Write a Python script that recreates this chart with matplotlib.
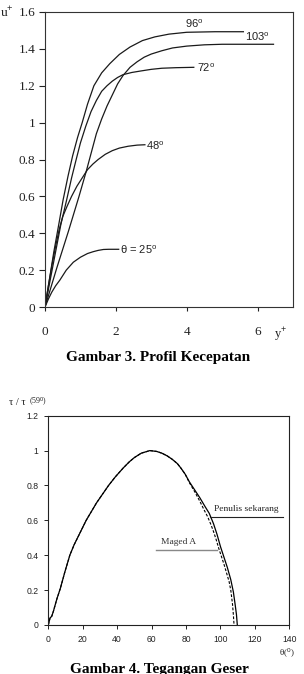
import matplotlib
matplotlib.use("Agg")
import matplotlib.pyplot as plt

plt.rcParams['mathtext.fontset'] = 'custom'
plt.rcParams['mathtext.rm'] = 'Liberation Sans'
plt.rcParams['mathtext.it'] = 'Liberation Sans:italic'
plt.rcParams['mathtext.bf'] = 'Liberation Sans:bold'

# ---------------- Data: Gambar 3 (velocity profiles) ----------------
x25 = [0, 0.1, 0.19, 0.3, 0.42, 0.6, 0.8, 1.0, 1.2, 1.36, 1.5, 1.65, 1.8, 2.08]
y25 = [0, 0.045, 0.08, 0.115, 0.146, 0.2, 0.243, 0.27, 0.29, 0.30, 0.307, 0.312, 0.313, 0.313]

x48 = [0, 0.1, 0.2, 0.3, 0.4, 0.5, 0.62, 0.75, 0.9, 1.05, 1.2, 1.35, 1.5, 1.7,
       1.9, 2.1, 2.35, 2.6, 2.82]
y48 = [0, 0.12, 0.23, 0.33, 0.42, 0.49, 0.545, 0.6, 0.655, 0.7, 0.745, 0.775,
       0.8, 0.828, 0.848, 0.862, 0.872, 0.878, 0.88]

x72 = [0, 0.15, 0.3, 0.45, 0.61, 0.75, 0.88, 1.0, 1.15, 1.3, 1.45, 1.6, 1.75,
       1.9, 2.05, 2.2, 2.45, 2.7, 3.0, 3.3, 3.7, 4.2]
y72 = [0, 0.15, 0.3, 0.45, 0.58, 0.7, 0.8, 0.89, 0.98, 1.06, 1.12, 1.17, 1.2,
       1.225, 1.245, 1.26, 1.272, 1.28, 1.289, 1.295, 1.298, 1.30]

x96 = [0, 0.1, 0.25, 0.4, 0.51, 0.65, 0.78, 0.92, 1.05, 1.2, 1.38, 1.6, 1.83,
       2.1, 2.4, 2.75, 3.1, 3.5, 4.0, 4.8, 5.6]
y96 = [0, 0.12, 0.3, 0.46, 0.58, 0.71, 0.82, 0.92, 1.0, 1.1, 1.2, 1.27, 1.32,
       1.37, 1.41, 1.445, 1.465, 1.48, 1.49, 1.493, 1.493]

x103 = [0, 0.33, 0.66, 0.96, 1.17, 1.31, 1.45, 1.6, 1.75, 1.9, 2.05, 2.2, 2.4,
        2.6, 2.8, 3.0, 3.3, 3.6, 4.0, 4.5, 5.0, 6.45]
y103 = [0, 0.21, 0.41, 0.6, 0.74, 0.84, 0.94, 1.02, 1.09, 1.15, 1.21, 1.255, 1.3,
        1.33, 1.355, 1.372, 1.39, 1.405, 1.415, 1.422, 1.425, 1.425]

top_xticks = [0, 2, 4, 6]
top_yticks = [0, 0.2, 0.4, 0.6, 0.8, 1.0, 1.2, 1.4, 1.6]
top_ylabels = ["0", "0.2", "0.4", "0.6", "0.8", "1", "1.2", "1.4", "1.6"]

# ---------------- Data: Gambar 4 (shear stress) ----------------
theta_now = [0, 1, 2, 3, 5, 7, 9.5, 12.5, 15, 17, 19.5, 22, 25, 28, 31.5, 35, 39,
             43.5, 47, 50, 54, 59, 63, 66, 69, 72, 75, 77, 79.5, 82, 85, 88, 91,
             93.5, 96, 98, 100, 102, 104, 106, 107.5, 108.5, 109.3, 109.8]
tau_now = [0, 0.04, 0.05, 0.08, 0.15, 0.21, 0.3, 0.4, 0.46, 0.5, 0.55, 0.6, 0.65,
           0.7, 0.75, 0.8, 0.85, 0.9, 0.935, 0.96, 0.985, 1.0, 0.995, 0.985, 0.97,
           0.95, 0.925, 0.9, 0.865, 0.82, 0.775, 0.73, 0.68, 0.64, 0.58, 0.52,
           0.45, 0.39, 0.33, 0.26, 0.19, 0.12, 0.06, 0]

theta_maged = [0, 1, 2, 3, 5, 7, 9.5, 12.5, 15, 17, 19.5, 22, 25, 28, 31.5, 35, 39,
               43.5, 47, 50, 54, 59, 63, 66, 69, 72, 75, 77, 79.5, 82, 85, 88,
               90.5, 92.6, 94.5, 96, 97.5, 99, 100.5, 102, 103.5, 105, 106, 107,
               107.5, 107.9]
tau_maged = [0, 0.04, 0.05, 0.08, 0.15, 0.21, 0.3, 0.4, 0.46, 0.5, 0.55, 0.6, 0.65,
             0.7, 0.75, 0.8, 0.85, 0.9, 0.935, 0.96, 0.985, 1.0, 0.995, 0.985, 0.97,
             0.95, 0.925, 0.9, 0.865, 0.815, 0.765, 0.71, 0.66, 0.62, 0.575,
             0.535, 0.49, 0.44, 0.395, 0.35, 0.3, 0.25, 0.2, 0.12, 0.06, 0]

bot_xticks = [0, 20, 40, 60, 80, 100, 120, 140]
bot_yticks = [0, 0.2, 0.4, 0.6, 0.8, 1.0, 1.2]
bot_ylabels = ["0", "0.2", "0.4", "0.6", "0.8", "1", "1.2"]

W, H = 304, 674
fig = plt.figure(figsize=(W / 100, H / 100), dpi=100)

serif = ['Liberation Serif', 'DejaVu Serif']
sans = ['Liberation Sans', 'DejaVu Sans']
lc = '#1a1a1a'

# ---------------- Top axes ----------------
ax1 = fig.add_axes([45 / W, 1 - 307 / H, 248 / W, 295 / H])
for xs, ys in [(x25, y25), (x48, y48), (x72, y72), (x96, y96), (x103, y103)]:
    ax1.plot(xs, ys, color=lc, lw=0.9, solid_joinstyle='round')
ax1.set_xlim(0, 7)
ax1.set_ylim(0, 1.6)
ax1.set_xticks(top_xticks)
ax1.set_xticklabels([str(t) for t in top_xticks], family=serif, fontsize=9.5)
ax1.set_yticks(top_yticks)
ax1.set_yticklabels(top_ylabels, family=serif, fontsize=9.5)
ax1.tick_params(axis='x', direction='out', length=3, width=0.8, pad=11, colors='#222222')
ax1.tick_params(axis='y', direction='out', length=4, width=0.8, pad=3, colors='#222222')
for s in ax1.spines.values():
    s.set_linewidth(0.8)
    s.set_color('#333333')

lab_kw = dict(family=sans, fontsize=8, color='#222222', va='center')
ax1.text(2.12, 0.31, "θ = 25$^{\\mathrm{o}}$", ha='left', **lab_kw)
ax1.text(2.86, 0.875, "48$^{\\mathrm{o}}$", ha='left', **lab_kw)
ax1.text(4.3, 1.30, "72$^{\\mathrm{o}}$", ha='left', **lab_kw)
ax1.text(4.21, 1.535, "96$^{\\mathrm{o}}$", ha='center', **lab_kw)
ax1.text(5.98, 1.465, "103$^{\\mathrm{o}}$", ha='center', **lab_kw)

fig.text(14 / W, 1 - 17 / H, "u$^{+}$", family=serif, fontsize=9.5,
         ha='right', va='baseline', color='#222222')
fig.text(281 / W, 1 - 335 / H, "y$^{+}$", family=serif, fontsize=9,
         ha='center', va='center', color='#222222')

fig.text(158 / W, 1 - 357 / H, "Gambar 3. Profil Kecepatan", family=serif,
         fontsize=11, fontweight='bold', ha='center', va='center')

# ---------------- Bottom axes ----------------
ax2 = fig.add_axes([48.3 / W, 1 - 625 / H, 241 / W, 209.3 / H])
ax2.plot(theta_now, tau_now, color='black', lw=0.9, ls='-')
ax2.plot(theta_maged, tau_maged, color='black', lw=0.8, ls=(0, (2.5, 1.5)))
ax2.set_xlim(0, 140)
ax2.set_ylim(0, 1.2)
ax2.set_xticks(bot_xticks)
ax2.set_xticklabels([str(t) for t in bot_xticks], family=sans, fontsize=6.2)
ax2.set_yticks(bot_yticks)
ax2.set_yticklabels(bot_ylabels, family=sans, fontsize=6.2)
ax2.tick_params(direction='out', length=3, width=0.7, pad=4, colors='#222222')
for s in ax2.spines.values():
    s.set_linewidth(0.8)
    s.set_color('#222222')

# Annotation labels with underline leaders
ax2.text(115, 0.665, "Penulis sekarang", family=serif, fontsize=6.8,
         ha='center', va='center', color='#222222')
ax2.plot([93.9, 136.2], [0.621, 0.621], color='#222222', lw=0.8, clip_on=False)
ax2.text(75.4, 0.477, "Maged A", family=serif, fontsize=6.8,
         ha='center', va='center', color='#333333')
ax2.plot([62.6, 97.8], [0.43, 0.43], color='#888888', lw=1.0)

fig.text(9 / W, 1 - 402 / H, "τ / τ", family=serif, fontsize=7.5,
         ha='left', va='center', color='#222222')
fig.text(29 / W, 1 - 402 / H, "(59$^{0}$)", family=serif, fontsize=5.8,
         ha='left', va='center', color='#222222')
fig.text(287 / W, 1 - 653 / H, "θ($^{0}$)", family=serif, fontsize=6.5,
         ha='center', va='center', color='#222222')

fig.text(159 / W, 1 - 669 / H, "Gambar 4. Tegangan Geser", family=serif,
         fontsize=11, fontweight='bold', ha='center', va='center')

fig.savefig("out.png", dpi=100)
